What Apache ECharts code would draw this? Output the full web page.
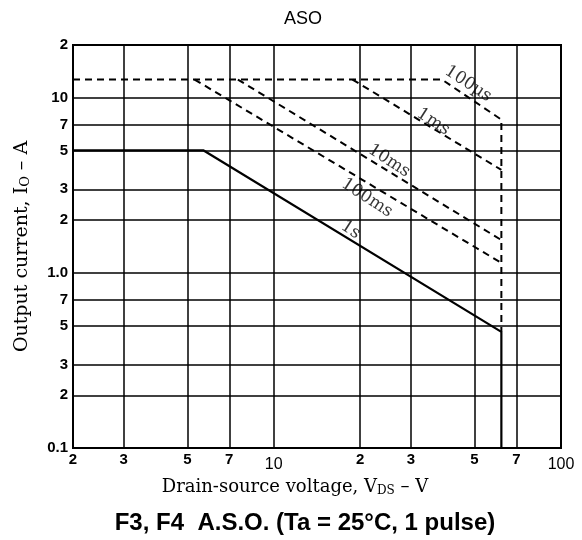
<!DOCTYPE html>
<html><head><meta charset="utf-8">
<script src="https://cdn.jsdelivr.net/npm/echarts@6/dist/echarts.min.js"></script>
<style>html,body{margin:0;padding:0;background:#fff}#c{width:582px;height:540px}</style>
</head><body><div id="c"></div>
<script>
// Tick values and their printed labels
const xTicks = [2, 3, 5, 7, 10, 20, 30, 50, 70, 100];
const xTickLabels = ['2', '3', '5', '7', '10', '2', '3', '5', '7', '100'];
const yTicks = [0.1, 0.2, 0.3, 0.5, 0.7, 1, 2, 3, 5, 7, 10, 20];
const yTickLabels = ['0.1', '2', '3', '5', '7', '1.0', '2', '3', '5', '7', '10', '2'];

// SOA curves: [V_DS (V), I_O (A)]
const curve100us = [[2, 12.7], [38.5, 12.7], [62, 7.5], [62, 0.46]];
const curve1ms = [[18.8, 12.7], [62, 3.87]];
const curve10ms = [[7.5, 12.7], [62, 1.54]];
const curve100ms = [[5.3, 12.7], [62, 1.14]];
const curve1s = [[2, 5], [5.7, 5], [62, 0.46], [62, 0.1]];

const curveNames = ['100µs', '1ms', '10ms', '100ms', '1s'];
const curveLabelAt = [[47.5, 12.0], [35.9, 7.28], [25.2, 4.36], [21.1, 2.68], [18.5, 1.76]];

function lookup(ticks, labels, v) {
  let best = 0, bd = Infinity;
  ticks.forEach((t, i) => { const d = Math.abs(Math.log10(t) - Math.log10(v)); if (d < bd) { bd = d; best = i; } });
  return labels[best];
}

const chart = echarts.init(document.getElementById('c'), null, { renderer: 'canvas' });
const serif = 'DejaVu Serif';
const sans = 'Liberation Sans';

const dashStyle = { color: '#000', width: 2, type: [7, 5] };

const option = {
  backgroundColor: '#fff',
  animation: false,
  title: [
    { text: 'ASO', left: 298, top: 5, textAlign: 'center',
      textStyle: { fontFamily: sans, fontSize: 18, fontWeight: 'normal', color: '#000' } },
    { text: 'F3, F4  A.S.O. (Ta = 25°C, 1 pulse)', left: 300, top: 506, textAlign: 'center',
      textStyle: { fontFamily: sans, fontSize: 24, fontWeight: 'bold', color: '#000' } }
  ],
  grid: { left: 73, right: 21, top: 45, bottom: 92, show: true, borderColor: '#000', borderWidth: 2, containLabel: false },
  xAxis: {
    type: 'log', logBase: 10, min: 2, max: 100,
    name: '{a|Drain-source voltage, V}{s|DS}{a| – V}',
    nameLocation: 'middle', nameGap: 30,
    nameTextStyle: { padding: [0, 44, 0, 0], rich: {
      a: { fontFamily: serif, fontSize: 18, color: '#000' },
      s: { fontFamily: serif, fontSize: 12, color: '#000', verticalAlign: 'bottom', padding: [7, 0, 0, 0] }
    } },
    axisLine: { show: true, lineStyle: { color: '#000', width: 2 } },
    axisTick: { show: false, customValues: xTicks },
    splitLine: { show: true, lineStyle: { color: '#000', width: 1.5 } },
    minorSplitLine: { show: false },
    axisLabel: {
      customValues: xTicks, margin: 4,
      formatter: function (v) {
        const s = lookup(xTicks, xTickLabels, v);
        return (s === '10' || s === '100') ? '{n|' + s + '}' : '{b|' + s + '}';
      },
      rich: {
        b: { fontFamily: sans, fontSize: 15, fontWeight: 'bold', color: '#000' },
        n: { fontFamily: sans, fontSize: 16, fontWeight: 'normal', color: '#000', padding: [5, 0, 0, 0] }
      }
    }
  },
  yAxis: {
    type: 'log', logBase: 10, min: 0.1, max: 20,
    name: '{a|Output current, I}{s|O}{a| – A}',
    nameLocation: 'middle', nameGap: 41,
    nameTextStyle: { rich: {
      a: { fontFamily: serif, fontSize: 19, color: '#000' },
      s: { fontFamily: serif, fontSize: 13, color: '#000', verticalAlign: 'bottom', padding: [7, 0, 0, 0] }
    } },
    axisLine: { show: true, lineStyle: { color: '#000', width: 2 } },
    axisTick: { show: false, customValues: yTicks },
    splitLine: { show: true, lineStyle: { color: '#000', width: 1.5 } },
    axisLabel: {
      customValues: yTicks, margin: 5,
      fontFamily: sans, fontSize: 15, fontWeight: 'bold', color: '#000',
      formatter: function (v) { return lookup(yTicks, yTickLabels, v); }
    }
  },
  series: [
    { name: '100µs', type: 'line', data: curve100us, symbol: 'none', lineStyle: dashStyle },
    { name: '1ms', type: 'line', data: curve1ms, symbol: 'none', lineStyle: dashStyle },
    { name: '10ms', type: 'line', data: curve10ms, symbol: 'none', lineStyle: dashStyle },
    { name: '100ms', type: 'line', data: curve100ms, symbol: 'none', lineStyle: dashStyle },
    { name: '1s', type: 'line', data: curve1s, symbol: 'none', lineStyle: { color: '#000', width: 2.2, type: 'solid' } },
    { type: 'scatter', symbolSize: 0, silent: true,
      data: curveLabelAt.map((p, i) => ({ value: p, name: curveNames[i] })),
      label: { show: true, position: 'inside', rotate: -33, formatter: '{b}',
        fontFamily: serif, fontSize: 17, color: '#000' } }
  ]
};
chart.setOption(option);
</script></body></html>
